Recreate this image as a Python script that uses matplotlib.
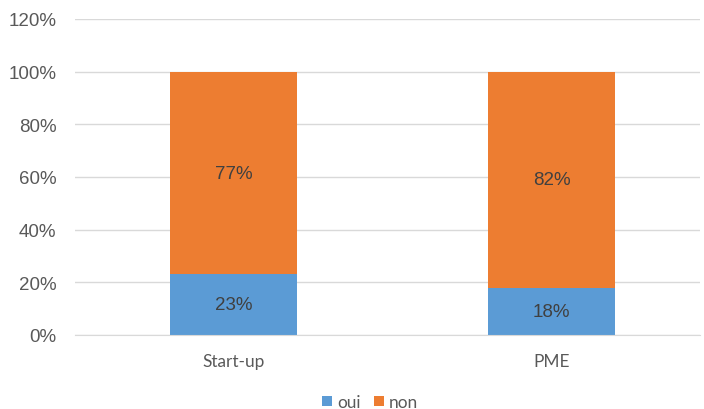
import matplotlib
matplotlib.use("Agg")
import matplotlib.pyplot as plt
from matplotlib.ticker import FuncFormatter

categories = ["Start-up", "PME"]
oui = [23, 18]
non = [77, 82]
series_names = ["oui", "non"]
colors = ["#5B9BD5", "#ED7D31"]
yticks = [0, 20, 40, 60, 80, 100, 120]

fig = plt.figure(figsize=(7.04, 4.10), dpi=100)
ax = fig.add_axes([75/704, 1-336/410, 625/704, 316/410])

x = list(range(len(categories)))
w = 0.4
b1 = ax.bar(x, oui, width=w, color=colors[0], label=series_names[0], zorder=3)
b2 = ax.bar(x, non, width=w, bottom=oui, color=colors[1], label=series_names[1], zorder=3)

for i in x:
    ax.text(i, oui[i]/2, f"{oui[i]}%", ha="center", va="center", fontsize=13.5,
            color="#404040", family="Liberation Sans", zorder=4)
    ax.text(i, oui[i] + non[i]/2, f"{non[i]}%", ha="center", va="center", fontsize=13.5,
            color="#404040", family="Liberation Sans", zorder=4)

ax.set_ylim(0, 120)
ax.set_xlim(-158.5/318, (700-233.5)/318)
ax.set_yticks(yticks)
ax.yaxis.set_major_formatter(FuncFormatter(lambda v, p: f"{int(v)}%"))
ax.set_xticks(x)
ax.set_xticklabels(categories, fontsize=12.4, color="#595959", family="Lato")
for lab in ax.get_yticklabels():
    lab.set_family("Liberation Sans")
    lab.set_fontsize(13.5)
    lab.set_color("#595959")
ax.tick_params(axis="y", length=0, pad=13.5)
ax.tick_params(axis="x", length=0, pad=13)
ax.grid(axis="y", color="#D9D9D9", linewidth=1, zorder=0)
for s in ["top", "right", "left"]:
    ax.spines[s].set_visible(False)
ax.spines["bottom"].set_color("#D9D9D9")
ax.spines["bottom"].set_zorder(5)

leg = fig.legend(handles=[b1, b2], labels=series_names, loc="center",
                 bbox_to_anchor=(370/704, 1-403/410), ncol=2, frameon=False,
                 prop={"family": "Lato", "size": 12.4}, handlelength=0.58, handleheight=0.58,
                 handletextpad=0.3, columnspacing=0.76, borderpad=0)
for t in leg.get_texts():
    t.set_color("#595959")

fig.savefig("out.png", dpi=100)
